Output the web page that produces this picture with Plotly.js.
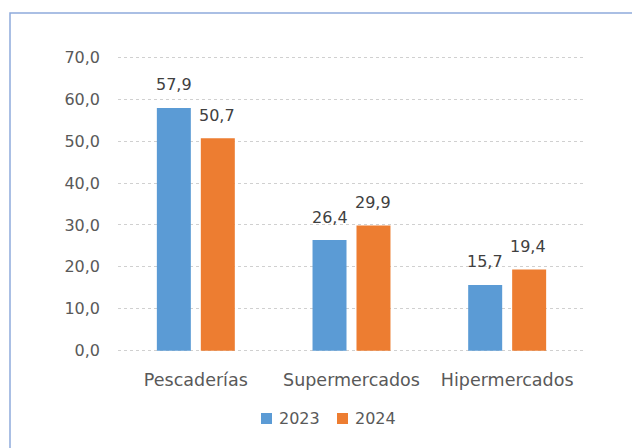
<!DOCTYPE html>
<html>
<head>
<meta charset="utf-8">
<script src="https://cdn.plot.ly/plotly-3.0.1.min.js"></script>
<style>html,body{margin:0;padding:0;background:#fff;}#chart{width:632px;height:448px;}</style>
</head>
<body>
<div id="chart"></div>
<script>
var categories = ["Pescaderías", "Supermercados", "Hipermercados"];
var values2023 = [57.9, 26.4, 15.7];
var values2024 = [50.7, 29.9, 19.4];
var seriesNames = ["2023", "2024"];
var yTicks = [0, 10, 20, 30, 40, 50, 60, 70];

var FONT = "DejaVu Sans, Verdana, sans-serif";
var colors = ["#5b9bd5", "#ed7d31"];

var traces = [
  {type: "bar", name: seriesNames[0], x: categories, y: values2023,
   marker: {color: colors[0]}, hoverinfo: "skip", showlegend: false},
  {type: "bar", name: seriesNames[1], x: categories, y: values2024,
   marker: {color: colors[1]}, hoverinfo: "skip", showlegend: false}
];

// plot area in pixels: x 118..585, y 56..352
var PW = 467, PH = 296, PL = 118, PB = 352;
function px2x(p) { return (p - PL) / PW; }
function px2y(p) { return (PB - p) / PH; }

var annotations = [];
[values2023, values2024].forEach(function (vals, s) {
  vals.forEach(function (v, i) {
    annotations.push({
      x: categories[i], y: v, xref: "x", yref: "y",
      text: v.toFixed(1).replace(".", ","),
      showarrow: false, xshift: s === 0 ? -22 : 21, yshift: 23,
      yanchor: "middle",
      font: {family: FONT, size: 16, color: "#404040"}
    });
  });
});

// custom legend (squares + labels)
var shapes = [{type: "rect", xref: "paper", yref: "paper",
  x0: px2x(10), x1: px2x(660), y0: px2y(470), y1: px2y(13),
  line: {color: "#8eaadb", width: 1.5}, fillcolor: "rgba(0,0,0,0)", layer: "below"}];
var legendX = [261, 337];
seriesNames.forEach(function (name, s) {
  shapes.push({type: "rect", xref: "paper", yref: "paper",
    x0: px2x(legendX[s]), x1: px2x(legendX[s] + 11),
    y0: px2y(424), y1: px2y(413),
    line: {width: 0}, fillcolor: colors[s]});
  annotations.push({xref: "paper", yref: "paper", x: px2x(legendX[s] + 16), y: px2y(418.5),
    xanchor: "left", yanchor: "middle", showarrow: false, text: name,
    font: {family: FONT, size: 16, color: "#595959"}});
});

var layout = {
  width: 632, height: 448,
  margin: {l: 118, r: 47, t: 56, b: 96},
  paper_bgcolor: "#ffffff", plot_bgcolor: "#ffffff",
  separators: ",.",
  barmode: "group", bargap: 0.435, bargroupgap: 0.227,
  showlegend: false,
  xaxis: {type: "category", showgrid: false, zeroline: false, showline: false,
          ticks: "", ticklabelstandoff: 15,
          tickfont: {family: FONT, size: 17.5, color: "#595959"}},
  yaxis: {range: [-0.3, 70.3], tickvals: yTicks, tickformat: ".1f",
          showgrid: true, gridcolor: "#d0d0d0", griddash: "dot", gridwidth: 1,
          zeroline: false, showline: false, ticks: "", ticklabelstandoff: 17,
          tickfont: {family: FONT, size: 16, color: "#595959"}},
  annotations: annotations,
  shapes: shapes
};

Plotly.newPlot("chart", traces, layout, {staticPlot: true, displayModeBar: false});
</script>
</body>
</html>
